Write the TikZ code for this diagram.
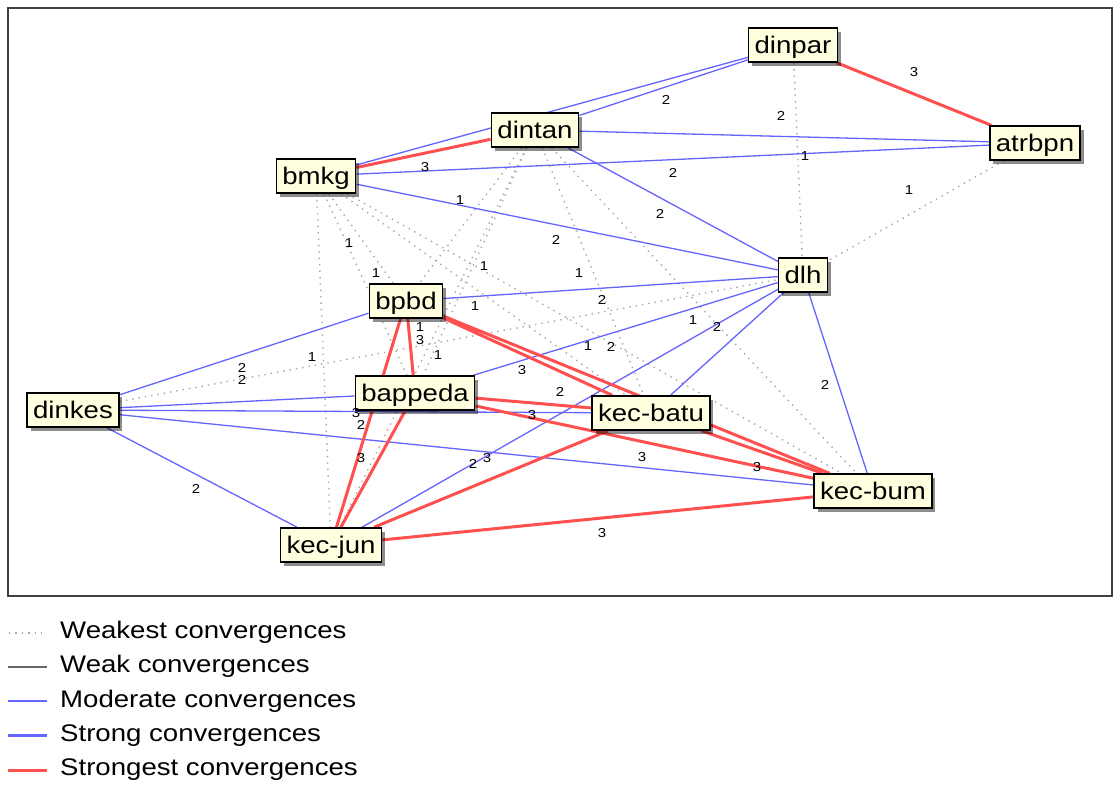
\documentclass[tikz,border=0pt]{standalone}
\usepackage{fontspec}
\setmainfont[FakeStretch=1.15]{Liberation Sans}
\usetikzlibrary{shadows,backgrounds}

\definecolor{actorfill}{HTML}{FFFFE0}
\definecolor{modblue}{HTML}{6464FF}
\definecolor{topred}{HTML}{FF5050}
\definecolor{dotgray}{HTML}{A8A8A8}

\tikzset{
  actor/.style={draw=black, line width=1.5pt, fill=actorfill, inner xsep=6pt, inner ysep=0pt,
    text height=25pt, text depth=9pt, font=\fontsize{24}{28}\selectfont,
    drop shadow={shadow xshift=3.5pt, shadow yshift=-3.5pt, opacity=0.45, fill=black}},
  weakest/.style={dotgray, line width=1.4pt, dash pattern=on 1.4pt off 5pt},
  weak/.style={black!60, line width=1.3pt},
  moderate/.style={modblue, line width=1.3pt},
  strong/.style={modblue, line width=3pt},
  strongest/.style={topred, line width=3pt},
  lbl/.style={inner sep=0pt, font=\fontsize{13}{14}\selectfont},
  legtext/.style={anchor=west, inner sep=0pt, font=\fontsize{24}{28}\selectfont}
}

\begin{document}
\begin{tikzpicture}[x=1pt,y=-1pt]
\useasboundingbox (0,0) rectangle (1117,787);
\draw[black!75, line width=1.8pt] (8,8) rectangle (1112,596);

% actors
\node[actor] (dinpar) at (793,45) {dinpar};
\node[actor] (atrbpn) at (1035,143) {atrbpn};
\node[actor] (dintan) at (535,130) {dintan};
\node[actor] (bmkg) at (316,176) {bmkg};
\node[actor] (dlh) at (803,275) {dlh};
\node[actor] (bpbd) at (406,301) {bpbd};
\node[actor] (dinkes) at (73,410) {dinkes};
\node[actor] (bappeda) at (415,393) {bappeda};
\node[actor] (kecbatu) at (651,413) {kec-batu};
\node[actor] (kecbum) at (873,491) {kec-bum};
\node[actor] (kecjun) at (331,545) {kec-jun};

\begin{scope}[on background layer]
% weakest
\draw[weakest] (dinpar) -- (dlh) (atrbpn) -- (dlh) (dinkes) -- (dlh);
\draw[weakest] (bmkg) -- (bpbd) (bmkg) -- (bappeda) (bmkg) -- (kecjun)
  (bmkg) -- (kecbatu) (bmkg) -- (kecbum);
\draw[weakest] (dintan) -- (bpbd) (dintan) -- (bappeda) (dintan) -- (kecjun)
  (dintan) -- (kecbatu) (dintan) -- (kecbum);
% moderate
\draw[moderate] (bmkg) -- (dinpar) (dintan) -- (dinpar) (dintan) -- (atrbpn) (bmkg) -- (atrbpn);
\draw[moderate] (bmkg) -- (dlh) (dintan) -- (dlh) (bpbd) -- (dlh) (bappeda) -- (dlh)
  (kecjun) -- (dlh) (kecbatu) -- (dlh) (dlh) -- (kecbum);
\draw[moderate] (dinkes) -- (bpbd) (dinkes) -- (bappeda) (dinkes) -- (kecbatu)
  (dinkes) -- (kecbum) (dinkes) -- (kecjun);
% strongest
\draw[strongest] (bmkg) -- (dintan) (dinpar) -- (atrbpn);
\draw[strongest] (bpbd) -- (bappeda) (bpbd) -- (kecjun) (bpbd) -- (kecbatu) (bpbd) -- (kecbum);
\draw[strongest] (bappeda) -- (kecbatu) (bappeda) -- (kecbum) (bappeda) -- (kecjun);
\draw[strongest] (kecbatu) -- (kecbum) (kecbatu) -- (kecjun) (kecjun) -- (kecbum);
\end{scope}

% weights
\node[lbl] (w1) at (666,100) {2};
\node[lbl] (w2) at (914,72) {3};
\node[lbl] (w3) at (781,116) {2};
\node[lbl] (w4) at (805,156) {1};
\node[lbl] (w5) at (425,167) {3};
\node[lbl] (w6) at (673,173) {2};
\node[lbl] (w7) at (909,190) {1};
\node[lbl] (w8) at (460,200) {1};
\node[lbl] (w9) at (660,214) {2};
\node[lbl] (w10) at (556,240) {2};
\node[lbl] (w11) at (349,243) {1};
\node[lbl] (w12) at (376,273) {1};
\node[lbl] (w13) at (484,266) {1};
\node[lbl] (w14) at (579,273) {1};
\node[lbl] (w15) at (475,306) {1};
\node[lbl] (w16) at (602,300) {2};
\node[lbl] (w17) at (312,357) {1};
\node[lbl] (w18) at (242,368) {2};
\node[lbl] (w19) at (242,380) {2};
\node[lbl] (w20) at (420,327) {1};
\node[lbl] (w21) at (420,340) {3};
\node[lbl] (w22) at (438,355) {1};
\node[lbl] (w23) at (588,346) {1};
\node[lbl] (w24) at (611,347) {2};
\node[lbl] (w25) at (693,320) {1};
\node[lbl] (w26) at (717,327) {2};
\node[lbl] (w27) at (522,370) {3};
\node[lbl] (w28) at (560,392) {2};
\node[lbl] (w29) at (532,415) {3};
\node[lbl] (w30) at (356,413) {3};
\node[lbl] (w31) at (361,425) {2};
\node[lbl] (w32) at (361,458) {3};
\node[lbl] (w33) at (473,464) {2};
\node[lbl] (w34) at (487,458) {3};
\node[lbl] (w35) at (642,457) {3};
\node[lbl] (w36) at (757,467) {3};
\node[lbl] (w37) at (825,385) {2};
\node[lbl] (w38) at (602,533) {3};
\node[lbl] (w39) at (196,489) {2};

% legend
\node[legtext] (leg1) at (60,632) {Weakest convergences};
\node[legtext] (leg2) at (60,666) {Weak convergences};
\node[legtext] (leg3) at (60,701) {Moderate convergences};
\node[legtext] (leg4) at (60,736) {Strong convergences};
\node[legtext] (leg5) at (60,770) {Strongest convergences};
\draw[weakest] (9,633) -- (42,633);
\draw[weak] (8,667) -- (47,667);
\draw[moderate] (8,701) -- (47,701);
\draw[strong] (8,735) -- (47,735);
\draw[strongest] (8,770) -- (47,770);
\end{tikzpicture}
\end{document}
